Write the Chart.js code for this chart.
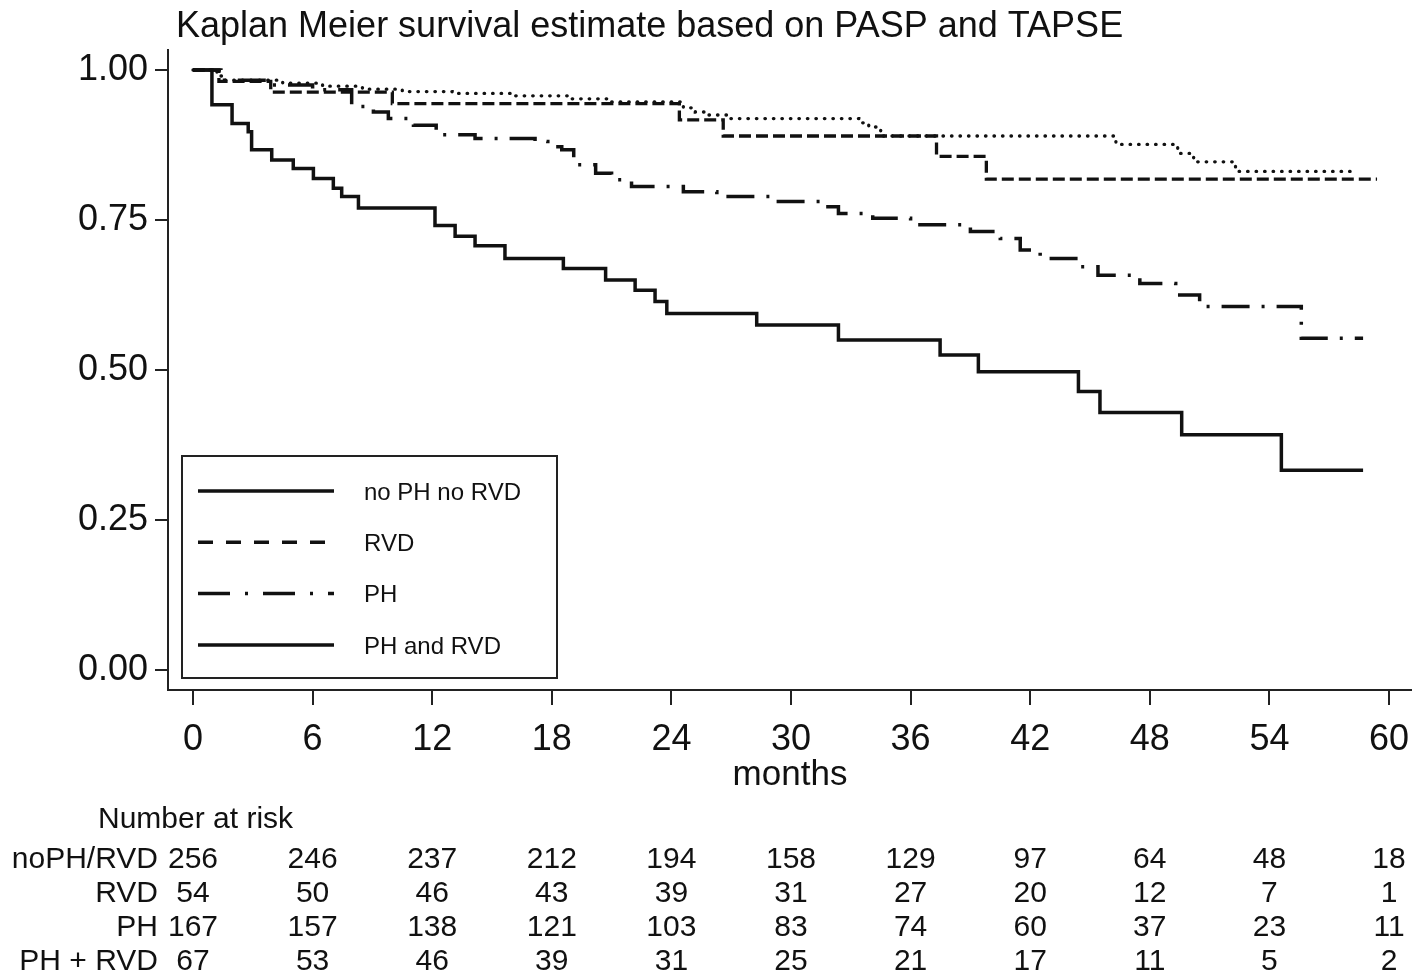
<html><head><meta charset="utf-8">
<script src="https://cdn.jsdelivr.net/npm/chart.js@4.4.1/dist/chart.umd.min.js"></script>
<style>body{margin:0;background:#fff}</style>
</head>
<body>
<canvas id="km" width="1412" height="975"></canvas>
<script>
// survival curves: time (months) where the step lands, and survival after it
var noPhNoRvdT = [0, 1.2, 1.6, 4.5, 6.5, 8.5, 10.5, 13, 16, 19, 21, 24.6, 25.2, 25.8, 26.8, 33.4, 33.9, 34.5, 46.3, 49.4, 50.2, 52.3, 58.3];
var noPhNoRvdS = [1, 0.99, 0.983, 0.978, 0.973, 0.968, 0.964, 0.961, 0.957, 0.952, 0.947, 0.937, 0.93, 0.925, 0.919, 0.912, 0.905, 0.89, 0.876, 0.861, 0.847, 0.831, 0.831];

var rvdT = [0, 1.3, 3.9, 10, 24.4, 26.6, 37.3, 39.8, 59.4];
var rvdS = [1, 0.981, 0.963, 0.944, 0.917, 0.89, 0.856, 0.818, 0.818];

var phT = [0, 1.4, 4, 6, 7.96, 9.05, 9.8, 11.06, 12.2, 14.15, 17.16, 17.8, 18.5, 19.1, 20.2, 21, 22, 24.6, 26.28, 29.2, 31.5, 32.38, 34.1, 36, 39, 40.5, 41.5, 42.5, 44.5, 45.4, 47.5, 49.3, 50.5, 55.6, 58.7];
var phS = [1, 0.983, 0.975, 0.967, 0.939, 0.93, 0.919, 0.908, 0.892, 0.886, 0.881, 0.872, 0.867, 0.842, 0.828, 0.817, 0.806, 0.797, 0.789, 0.781, 0.772, 0.761, 0.753, 0.742, 0.731, 0.719, 0.70, 0.686, 0.672, 0.658, 0.644, 0.625, 0.606, 0.553, 0.553];

var phRvdT = [0, 0.95, 1.96, 2.77, 2.94, 3.95, 5.03, 6.04, 7.04, 7.46, 8.3, 12.14, 13.15, 14.15, 15.65, 18.58, 20.7, 22.18, 23.18, 23.77, 28.28, 32.38, 37.48, 39.4, 44.42, 45.5, 49.6, 54.6, 58.7];
var phRvdS = [1, 0.942, 0.911, 0.897, 0.867, 0.85, 0.836, 0.819, 0.803, 0.789, 0.77, 0.741, 0.723, 0.707, 0.686, 0.669, 0.65, 0.633, 0.614, 0.594, 0.575, 0.55, 0.525, 0.497, 0.464, 0.429, 0.392, 0.333, 0.333];

var legendNames = ['no PH no RVD', 'RVD', 'PH', 'PH and RVD'];
var xTicks = [0, 6, 12, 18, 24, 30, 36, 42, 48, 54, 60];
var yTicks = [0, 0.25, 0.5, 0.75, 1];

// number at risk table
var riskRows = ['noPH/RVD', 'RVD', 'PH', 'PH + RVD'];
var riskNoPhNoRvd = [256, 246, 237, 212, 194, 158, 129, 97, 64, 48, 18];
var riskRvd = [54, 50, 46, 43, 39, 31, 27, 20, 12, 7, 1];
var riskPh = [167, 157, 138, 121, 103, 83, 74, 60, 37, 23, 11];
var riskPhRvd = [67, 53, 46, 39, 31, 25, 21, 17, 11, 5, 2];

var FONT = "'Liberation Sans', Arial, sans-serif";
var INK = '#111';

function pts(t, s) {
  return t.map(function (v, i) { return {x: v, y: s[i]}; });
}

// solid legend sample for the first group, as in the original figure
var legendDash = [[], [15, 13], [32, 15, 3, 15], []];

var overlay = {
  id: 'overlay',
  afterDraw: function (chart) {
    var ctx = chart.ctx;
    var xs = chart.scales.x;
    ctx.save();
    ctx.fillStyle = INK;

    // title
    ctx.font = '36px ' + FONT;
    ctx.textAlign = 'left';
    ctx.textBaseline = 'middle';
    ctx.fillText('Kaplan Meier survival estimate based on PASP and TAPSE', 176, 27);

    // legend box inside plot
    ctx.fillStyle = '#fff';
    ctx.fillRect(182, 456, 375, 222);
    ctx.strokeStyle = '#222';
    ctx.lineWidth = 2;
    ctx.strokeRect(182, 456, 375, 222);
    ctx.font = '24px ' + FONT;
    ctx.fillStyle = INK;
    for (var i = 0; i < legendNames.length; i++) {
      var y = 491 + i * 51.3;
      ctx.beginPath();
      ctx.setLineDash(legendDash[i]);
      ctx.lineWidth = 3.5;
      ctx.strokeStyle = INK;
      ctx.moveTo(198, y);
      ctx.lineTo(334, y);
      ctx.stroke();
      ctx.setLineDash([]);
      ctx.fillText(legendNames[i], 364, y + 2);
    }

    // number at risk
    ctx.font = '30px ' + FONT;
    ctx.textAlign = 'left';
    ctx.fillText('Number at risk', 98, 820);
    var rows = [riskNoPhNoRvd, riskRvd, riskPh, riskPhRvd];
    for (var r = 0; r < rows.length; r++) {
      var ry = 860 + r * 34;
      ctx.textAlign = 'right';
      ctx.fillText(riskRows[r], 158, ry);
      ctx.textAlign = 'center';
      for (var k = 0; k < xTicks.length; k++) {
        ctx.fillText(String(rows[r][k]), xs.getPixelForValue(xTicks[k]), ry);
      }
    }
    ctx.restore();
  }
};

new Chart(document.getElementById('km'), {
  type: 'line',
  data: {
    datasets: [
      {label: legendNames[0], data: pts(noPhNoRvdT, noPhNoRvdS), borderDash: [0.5, 8], borderCapStyle: 'round', borderWidth: 3.3},
      {label: legendNames[1], data: pts(rvdT, rvdS), borderDash: [12, 5], borderWidth: 3.3},
      {label: legendNames[2], data: pts(phT, phS), borderDash: [28, 12, 3, 12], borderWidth: 3.5},
      {label: legendNames[3], data: pts(phRvdT, phRvdS), borderWidth: 3.5}
    ].map(function (d) {
      d.borderColor = INK;
      d.stepped = 'before';
      d.pointRadius = 0;
      d.fill = false;
      return d;
    })
  },
  options: {
    responsive: false,
    animation: false,
    layout: {padding: {top: 50, bottom: 175, left: 0, right: 0}},
    plugins: {legend: {display: false}, tooltip: {enabled: false}},
    scales: {
      x: {
        type: 'linear',
        min: -1.254, max: 61.154,
        afterBuildTicks: function (s) { s.ticks = xTicks.map(function (v) { return {value: v}; }); },
        afterFit: function (s) { s.height = 110; s.paddingLeft = 0; s.paddingRight = 0; },
        ticks: {font: {family: FONT, size: 36}, color: INK, padding: 13, maxRotation: 0, autoSkip: false},
        grid: {drawOnChartArea: false, drawTicks: true, tickLength: 15, color: '#222', lineWidth: 2},
        border: {display: true, color: '#222', width: 2},
        title: {display: true, text: 'months', font: {family: FONT, size: 35}, color: INK, padding: {top: 0, bottom: 4}}
      },
      y: {
        type: 'linear',
        min: -0.0333, max: 1.0333,
        afterBuildTicks: function (s) { s.ticks = yTicks.map(function (v) { return {value: v}; }); },
        afterFit: function (s) { s.width = 168; s.paddingTop = 0; s.paddingBottom = 0; },
        ticks: {font: {family: FONT, size: 36}, color: INK, padding: 7, callback: function (v) { return v.toFixed(2); }},
        grid: {drawOnChartArea: false, drawTicks: true, tickLength: 13, color: '#222', lineWidth: 2},
        border: {display: true, color: '#222', width: 2}
      }
    }
  },
  plugins: [overlay]
});
</script>
</body></html>
